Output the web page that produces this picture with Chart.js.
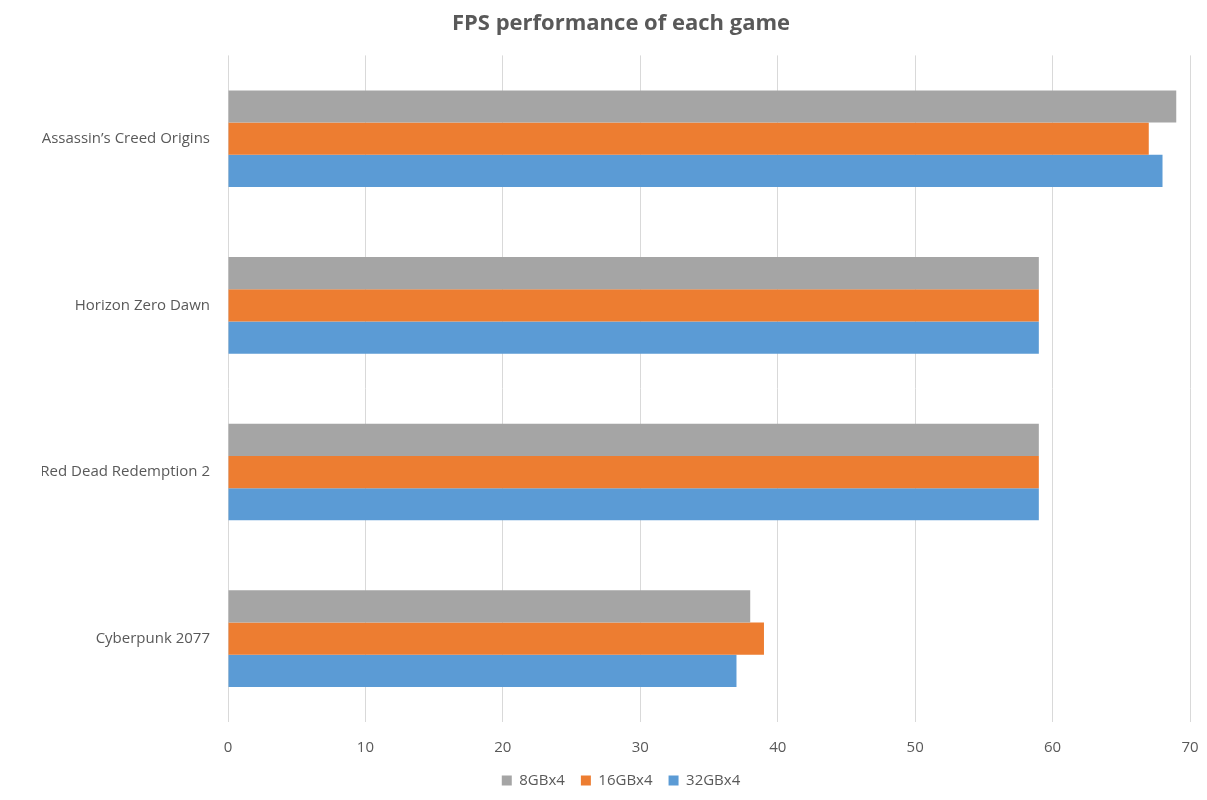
<!DOCTYPE html>
<html>
<head>
<meta charset="utf-8">
<script src="https://cdn.jsdelivr.net/npm/chart.js@4/dist/chart.umd.min.js"></script>
<style>
	html, body { margin: 0; padding: 0; background: #fff; overflow: hidden; }
	#wrap { width: 1207px; height: 800px; }
	canvas { display: block; }
</style>
</head>
<body>
<div id="wrap"><canvas id="fpsChart" width="1207" height="800"></canvas></div>
<script>
// 게임 목록 (위에서 아래 순서)
const games = ['Assassin\u2019s Creed Origins', 'Horizon Zero Dawn', 'Red Dead Redemption 2', 'Cyberpunk 2077'];

// 메모리 구성별 FPS
const fps8GB = [69, 59, 59, 38];
const fps16GB = [67, 59, 59, 39];
const fps32GB = [68, 59, 59, 37];

// x축 눈금
const xTicks = [0, 10, 20, 30, 40, 50, 60, 70];

const textColor = '#595959';
const fontFamily = '"Open Sans", "Liberation Sans", sans-serif';

document.addEventListener('DOMContentLoaded', function() {
	const ctx = document.getElementById('fpsChart').getContext('2d');
	const chart = new Chart(ctx, {
		type: 'bar',
		data: {
			labels: games,
			datasets: [
				{ label: '8GBx4', data: fps8GB, backgroundColor: '#A5A5A5' },
				{ label: '16GBx4', data: fps16GB, backgroundColor: '#ED7D31' },
				{ label: '32GBx4', data: fps32GB, backgroundColor: '#5B9BD5' }
			]
		},
		options: {
			indexAxis: 'y',
			responsive: false,
			animation: false,
			datasets: {
				bar: { categoryPercentage: 0.58, barPercentage: 1.0 }
			},
			layout: { padding: { left: 42, right: 7, top: 7, bottom: 2 } },
			scales: {
				x: {
					min: xTicks[0],
					max: xTicks[xTicks.length - 1],
					afterBuildTicks: function(scale) {
						scale.ticks = xTicks.map(v => ({ value: v }));
					},
					// 오른쪽 여백 고정, 축 높이 줄여서 그래프 영역을 아래로
					afterFit: function(scale) {
						scale.paddingRight = 17;
						scale.paddingLeft = 0;
						scale.height -= 17;
					},
					grid: { color: '#D9D9D9', drawTicks: false, lineWidth: 1 },
					border: { display: false },
					ticks: { color: textColor, font: { family: fontFamily, size: 15 }, padding: 17 }
				},
				y: {
					grid: { display: false },
					border: { display: false },
					afterFit: function(scale) { scale.width = 186; },
					ticks: { color: textColor, font: { family: fontFamily, size: 15 }, padding: 10 }
				}
			},
			plugins: {
				title: {
					display: true,
					text: 'FPS performance of each game',
					color: textColor,
					font: { family: fontFamily, size: 22, weight: 'bold' },
					padding: { top: 4, bottom: 18 }
				},
				legend: {
					position: 'bottom',
					labels: {
						color: textColor,
						font: { family: fontFamily, size: 15 },
						boxWidth: 10,
						boxHeight: 10,
						padding: 16
					}
				},
				tooltip: { enabled: false }
			}
		}
	});
});
</script>
</body>
</html>
